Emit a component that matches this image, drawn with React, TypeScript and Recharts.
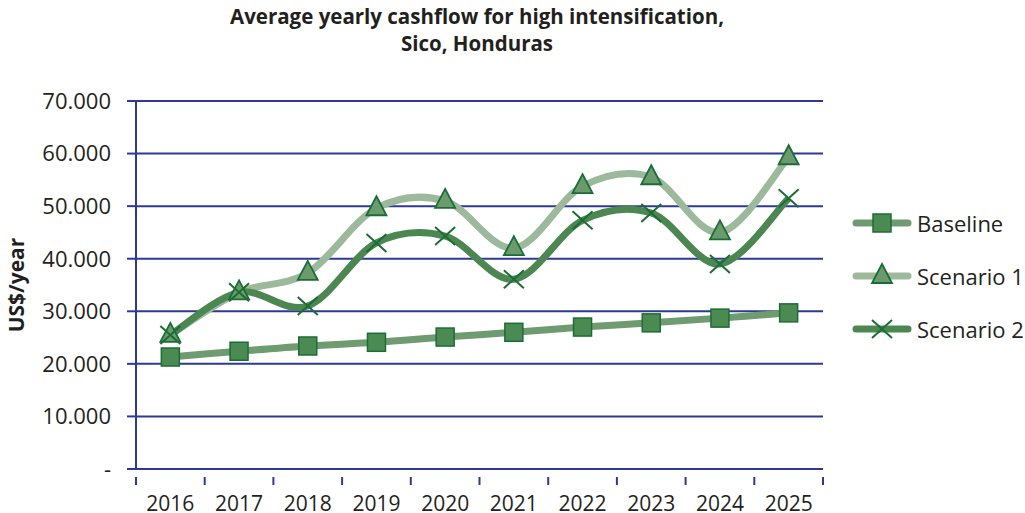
import { LineChart, Line, XAxis, YAxis, CartesianGrid } from 'recharts';

const years = ['2016', '2017', '2018', '2019', '2020', '2021', '2022', '2023', '2024', '2025'];
const baseline = [21300, 22400, 23400, 24100, 25100, 26000, 27000, 27800, 28700, 29700];
const scenario1 = [25500, 33600, 37300, 49600, 51000, 42000, 53800, 55500, 45000, 59300];
const scenario2 = [25500, 33600, 31000, 43000, 44300, 36100, 47300, 48700, 39000, 51500];
const yTicks = [0, 10000, 20000, 30000, 40000, 50000, 60000, 70000];

const data = years.map((year, i) => ({
  year,
  baseline: baseline[i],
  scenario1: scenario1[i],
  scenario2: scenario2[i],
}));

const FONT = '"Open Sans", sans-serif';
const NAVY = '#2c3a93';
const EDGE = '#1b6d36';
const TEXT = '#231f20';

// Excel-style smoothed line (Catmull-Rom through every point)
const excelSmooth = (ctx: any) => {
  let pts: number[][] = [];
  return {
    areaStart() {},
    areaEnd() {},
    lineStart() { pts = []; },
    point(x: number, y: number) { pts.push([+x, +y]); },
    lineEnd() {
      if (!pts.length) return;
      ctx.moveTo(pts[0][0], pts[0][1]);
      for (let i = 0; i < pts.length - 1; i++) {
        const p0 = pts[i - 1] || pts[i];
        const p1 = pts[i];
        const p2 = pts[i + 1];
        const p3 = pts[i + 2] || p2;
        ctx.bezierCurveTo(
          p1[0] + (p2[0] - p0[0]) / 6, p1[1] + (p2[1] - p0[1]) / 6,
          p2[0] - (p3[0] - p1[0]) / 6, p2[1] - (p3[1] - p1[1]) / 6,
          p2[0], p2[1]
        );
      }
    },
  };
};

const Square = ({ cx, cy }: any) => (
  <rect x={cx - 9} y={cy - 9} width={18} height={18} fill="#4b8a53" stroke={EDGE} strokeWidth={1.5} />
);
const Triangle = ({ cx, cy }: any) => (
  <path d={`M${cx},${cy - 12} L${cx + 10},${cy + 7} L${cx - 10},${cy + 7} Z`} fill="#6b9b6d" stroke={EDGE} strokeWidth={1.8} />
);
const Cross = ({ cx, cy }: any) => (
  <path d={`M${cx - 10},${cy - 9} L${cx + 10},${cy + 9} M${cx + 10},${cy - 9} L${cx - 10},${cy + 9}`} stroke={EDGE} strokeWidth={2} fill="none" />
);

const series = [
  { key: 'baseline', name: 'Baseline', color: '#6f9b71', Mark: Square },
  { key: 'scenario1', name: 'Scenario 1', color: '#9cb99c', Mark: Triangle },
  { key: 'scenario2', name: 'Scenario 2', color: '#4c8751', Mark: Cross },
];

const PLOT_LEFT = 136;
const PLOT_RIGHT = 823;
const BAND = (PLOT_RIGHT - PLOT_LEFT) / years.length;

const YearTick = ({ x, y, payload, index }: any) => (
  <g>
    <line x1={x - BAND / 2} x2={x - BAND / 2} y1={y} y2={y + 8} stroke={NAVY} strokeWidth={2} />
    {index === years.length - 1 && (
      <line x1={x + BAND / 2} x2={x + BAND / 2} y1={y} y2={y + 8} stroke={NAVY} strokeWidth={2} />
    )}
    <text x={x} y={y + 34} textAnchor="middle" fontSize={21} fill={TEXT} fontFamily={FONT}>
      {payload.value}
    </text>
  </g>
);

export default function App() {
  return (
    <div style={{ position: 'absolute', left: 0, top: 0, width: 1025, height: 513, background: '#fff', overflow: 'hidden' }}>
      <div style={{ position: 'absolute', left: 0, width: 954, top: 3, textAlign: 'center', fontFamily: FONT, fontWeight: 700, fontSize: 20.5, lineHeight: '27px', color: TEXT }}>
        Average yearly cashflow for high intensification,<br />Sico, Honduras
      </div>
      <div style={{ position: 'absolute', left: -34, top: 270, width: 100, height: 30, transform: 'rotate(-90deg)', textAlign: 'center', fontFamily: FONT, fontWeight: 700, fontSize: 21, lineHeight: '30px', color: TEXT, whiteSpace: 'nowrap' }}>
        US$/year
      </div>
      <LineChart width={1025} height={513} data={data} margin={{ top: 101, right: 1025 - PLOT_RIGHT, bottom: 0, left: 36 }}>
        <CartesianGrid vertical={false} stroke={NAVY} strokeWidth={2} />
        <XAxis dataKey="year" scale="band" stroke={NAVY} strokeWidth={2} tickLine={false} tick={<YearTick />} interval={0} height={44} />
        <YAxis
          domain={[0, 70000]}
          ticks={yTicks}
          width={100}
          stroke={NAVY}
          strokeWidth={2}
          tickSize={9}
          tickMargin={16}
          tickLine={{ stroke: NAVY, strokeWidth: 2 }}
          tick={{ fontSize: 22, fill: TEXT, fontFamily: FONT }}
          tickFormatter={(v: number) => (v === 0 ? '-' : `${v / 1000}.000`)}
        />
        {series.map(({ key, name, color, Mark }) => (
          <Line
            key={key}
            dataKey={key}
            name={name}
            type={excelSmooth as any}
            stroke={color}
            strokeWidth={7}
            dot={<Mark />}
            activeDot={false}
            isAnimationActive={false}
          />
        ))}
      </LineChart>
      <div style={{ position: 'absolute', left: 850, top: 196, fontFamily: FONT, fontSize: 22, color: TEXT }}>
        {series.map(({ key, name, color, Mark }) => (
          <div key={key} style={{ display: 'flex', alignItems: 'center', height: 53 }}>
            <svg width={66} height={30}>
              <line x1={6} x2={58} y1={15} y2={15} stroke={color} strokeWidth={7} strokeLinecap="round" />
              <Mark cx={32} cy={15} />
            </svg>
            <span style={{ marginLeft: 1 }}>{name}</span>
          </div>
        ))}
      </div>
    </div>
  );
}
